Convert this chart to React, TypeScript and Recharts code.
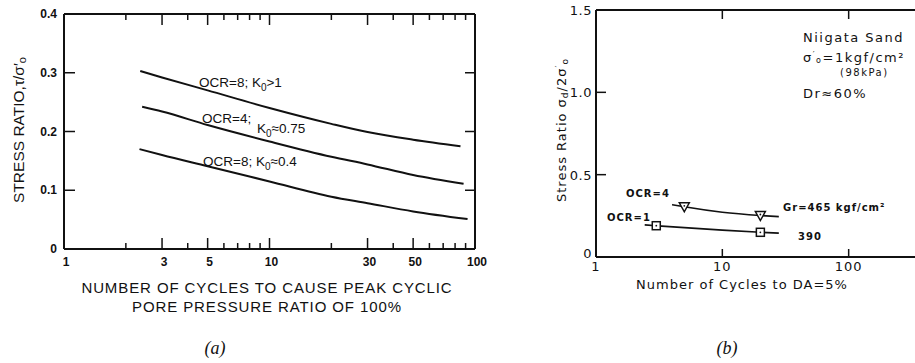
import React from 'react';
import { ComposedChart, Line, XAxis, YAxis } from 'recharts';

// (a) stress ratio vs number of cycles to peak pore pressure ratio 100%
const cycleTicksA = [1, 2, 3, 4, 5, 6, 7, 8, 9, 10, 20, 30, 40, 50, 60, 70, 80, 90, 100];
const cycleLabelsA = [1, 3, 5, 10, 30, 50, 100];
const longTicksA = [3, 5, 10, 30, 50];
const ratioTicksA = [0, 0.1, 0.2, 0.3, 0.4];

const k0HighX = [2.35, 3, 5, 10, 20, 30, 50, 85];
const k0HighY = [0.303, 0.292, 0.27, 0.24, 0.213, 0.199, 0.186, 0.175];
const k0MidX = [2.4, 3, 5, 10, 20, 30, 50, 88];
const k0MidY = [0.242, 0.234, 0.211, 0.183, 0.157, 0.144, 0.126, 0.111];
const k0LowX = [2.33, 3, 5, 10, 20, 30, 50, 92];
const k0LowY = [0.17, 0.16, 0.141, 0.115, 0.089, 0.078, 0.064, 0.051];

// (b) Niigata sand, cycles to DA=5%
const cycleTicksB = [1, 10, 100];
const ratioTicksB = [0, 0.5, 1.0, 1.5];
const ratioLabelsB = ['0', '0.5', '1.0', '1.5'];
const ocr4CurveX = [4, 5, 10, 20, 28];
const ocr4CurveY = [0.318, 0.305, 0.272, 0.252, 0.245];
const ocr4TestX = [5, 20];
const ocr4TestY = [0.305, 0.252];
const ocr1CurveX = [2.43, 3, 10, 20, 28];
const ocr1CurveY = [0.195, 0.19, 0.163, 0.15, 0.145];
const ocr1TestX = [3, 20];
const ocr1TestY = [0.19, 0.15];

const pts = (xs: number[], ys: number[]) => xs.map((x, i) => ({ x, y: ys[i] }));

// built once so every render hands recharts the same arrays
const k0High = pts(k0HighX, k0HighY);
const k0Mid = pts(k0MidX, k0MidY);
const k0Low = pts(k0LowX, k0LowY);
const ocr4Curve = pts(ocr4CurveX, ocr4CurveY);
const ocr4Tests = pts(ocr4TestX, ocr4TestY);
const ocr1Curve = pts(ocr1CurveX, ocr1CurveY);
const ocr1Tests = pts(ocr1TestX, ocr1TestY);

const domainCyclesA: [number, number] = [1, 100];
const domainRatioA: [number, number] = [0, 0.4];
const domainCyclesB: [number, number] = [1, 1000];
const domainRatioB: [number, number] = [0, 1.5];
const marginA = { top: 0, right: 0, bottom: 84, left: 24 };
const marginB = { top: 0, right: 25, bottom: 76, left: 56 };
const frameBottom = { stroke: '#111', strokeWidth: 2 };
const frameTop = { stroke: '#111', strokeWidth: 2 };
const frameLeft = { stroke: '#111', strokeWidth: 2 };
const frameRight = { stroke: '#111', strokeWidth: 2 };

const SANS = '"Liberation Sans", Arial, sans-serif';
const TYPE = '"DejaVu Sans", sans-serif';

const tickLenA = (v: number) => (v === 1 || v === 100 ? 0 : longTicksA.includes(v) ? 11 : 6);

// ---- ticks for (a)
const BottomTickA = (props: any) => {
  const { x, y, payload } = props;
  const v = payload.value;
  return (
    <g>
      <line x1={x} x2={x} y1={y} y2={y - tickLenA(v)} stroke="#111" strokeWidth={1.5} />
      {cycleLabelsA.includes(v) && (
        <text x={x + 2} y={y + 17} textAnchor="middle" fontFamily={SANS} fontWeight="bold" fontSize={12} fill="#111">
          {v}
        </text>
      )}
    </g>
  );
};

const TopTickA = (props: any) => {
  const { x, y, payload } = props;
  return <line x1={x} x2={x} y1={y} y2={y + tickLenA(payload.value)} stroke="#111" strokeWidth={1.5} />;
};

const LeftTickA = (props: any) => {
  const { x, y, payload } = props;
  const v = payload.value;
  const len = v > 0 && v < 0.4 ? 11 : 0;
  return (
    <g>
      <line x1={x} x2={x + len} y1={y} y2={y} stroke="#111" strokeWidth={1.5} />
      <text x={x - 7} y={y} dy={4} textAnchor="end" fontFamily={SANS} fontWeight="bold" fontSize={12} fill="#111">
        {v === 0 ? '0' : v.toFixed(1)}
      </text>
    </g>
  );
};

const RightTickA = (props: any) => {
  const { x, y, payload } = props;
  const v = payload.value;
  const len = v > 0 && v < 0.4 ? 10 : 0;
  return <line x1={x} x2={x - len} y1={y} y2={y} stroke="#111" strokeWidth={1.5} />;
};

// ---- ticks for (b)
const BottomTickB = (props: any) => {
  const { x, y, payload } = props;
  const v = payload.value;
  return (
    <g>
      <line x1={x} x2={x} y1={y} y2={y - (v > 1 ? 8 : 0)} stroke="#111" strokeWidth={1.5} />
      <text x={x} y={y + 14} textAnchor="middle" fontFamily={TYPE} fontSize={13} letterSpacing={1} fill="#111">
        {v}
      </text>
    </g>
  );
};

const TopTickB = (props: any) => {
  const { x, y, payload } = props;
  return <line x1={x} x2={x} y1={y} y2={y + (payload.value > 1 ? 9 : 0)} stroke="#111" strokeWidth={1.5} />;
};

const LeftTickB = (props: any) => {
  const { x, y, payload, index } = props;
  const v = payload.value;
  const len = v > 0 && v < 1.5 ? 10 : 0;
  return (
    <g>
      <line x1={x} x2={x + len} y1={y} y2={y} stroke="#111" strokeWidth={1.5} />
      <text x={x - 4} y={y} dy={v === 0 ? 1 : 5} textAnchor="end" fontFamily={TYPE} fontSize={13} letterSpacing={0.5} fill="#111">
        {ratioLabelsB[index] ?? String(v)}
      </text>
    </g>
  );
};

const TriangleDown = (props: any) => {
  const { cx, cy } = props;
  if (cx == null || cy == null) return <g />;
  return (
    <g>
      <path d={`M${cx - 5},${cy - 4} L${cx + 5},${cy - 4} L${cx},${cy + 5} Z`} fill="#fff" stroke="#111" strokeWidth={1.5} />
      <circle cx={cx} cy={cy - 1} r={0.9} fill="#111" />
    </g>
  );
};

const SquareMark = (props: any) => {
  const { cx, cy } = props;
  if (cx == null || cy == null) return <g />;
  return (
    <g>
      <rect x={cx - 4} y={cy - 4} width={8} height={8} fill="#fff" stroke="#111" strokeWidth={1.5} />
      <circle cx={cx} cy={cy} r={0.9} fill="#111" />
    </g>
  );
};

const bottomTickA = <BottomTickA />;
const topTickA = <TopTickA />;
const leftTickA = <LeftTickA />;
const rightTickA = <RightTickA />;
const bottomTickB = <BottomTickB />;
const topTickB = <TopTickB />;
const leftTickB = <LeftTickB />;
const triangleDot = <TriangleDown />;
const squareDot = <SquareMark />;

// top and right sides of the frame are extra axes sharing the same scales
const ChartA = () => (
  <ComposedChart width={500} height={363} margin={marginA}>
    <XAxis xAxisId="bottom" dataKey="x" type="number" scale="log" domain={domainCyclesA} allowDataOverflow
      ticks={cycleTicksA} interval={0} height={30} tickSize={0} tickMargin={0} tickLine={false}
      axisLine={frameBottom} tick={bottomTickA} />
    <XAxis xAxisId="top" orientation="top" dataKey="x" type="number" scale="log" domain={domainCyclesA} allowDataOverflow
      ticks={cycleTicksA} interval={0} height={14} tickSize={0} tickMargin={0} tickLine={false}
      axisLine={frameTop} tick={topTickA} />
    <YAxis yAxisId="left" dataKey="y" type="number" domain={domainRatioA} allowDataOverflow ticks={ratioTicksA}
      interval={0} width={40} tickSize={0} tickMargin={0} tickLine={false} axisLine={frameLeft} tick={leftTickA} />
    <YAxis yAxisId="right" orientation="right" dataKey="y" type="number" domain={domainRatioA} allowDataOverflow
      ticks={ratioTicksA} interval={0} width={25} tickSize={0} tickMargin={0} tickLine={false}
      axisLine={frameRight} tick={rightTickA} />
    <Line xAxisId="top" yAxisId="right" data={k0High} dataKey="y" type="monotone"
      stroke="#111" strokeWidth={2} dot={false} activeDot={false} isAnimationActive={false} />
    <Line xAxisId="bottom" yAxisId="left" data={k0Mid} dataKey="y" type="monotone"
      stroke="#111" strokeWidth={2} dot={false} activeDot={false} isAnimationActive={false} />
    <Line xAxisId="bottom" yAxisId="left" data={k0Low} dataKey="y" type="monotone"
      stroke="#111" strokeWidth={2} dot={false} activeDot={false} isAnimationActive={false} />
  </ComposedChart>
);

const ChartB = () => (
  <ComposedChart width={500} height={363} margin={marginB}>
    <XAxis xAxisId="bottom" dataKey="x" type="number" scale="log" domain={domainCyclesB} allowDataOverflow
      ticks={cycleTicksB} interval={0} height={30} tickSize={0} tickMargin={0} tickLine={false}
      axisLine={frameBottom} tick={bottomTickB} />
    <XAxis xAxisId="top" orientation="top" dataKey="x" type="number" scale="log" domain={domainCyclesB} allowDataOverflow
      ticks={cycleTicksB} interval={0} height={10} tickSize={0} tickMargin={0} tickLine={false}
      axisLine={frameTop} tick={topTickB} />
    <YAxis yAxisId="left" dataKey="y" type="number" domain={domainRatioB} allowDataOverflow ticks={ratioTicksB}
      interval={0} width={40} tickSize={0} tickMargin={0} tickLine={false} axisLine={frameLeft} tick={leftTickB} />
    <Line xAxisId="top" yAxisId="left" data={ocr4Curve} dataKey="y" type="monotone"
      stroke="#111" strokeWidth={1.6} dot={false} activeDot={false} isAnimationActive={false} />
    <Line xAxisId="bottom" yAxisId="left" data={ocr1Curve} dataKey="y" type="monotone"
      stroke="#111" strokeWidth={1.6} dot={false} activeDot={false} isAnimationActive={false} />
    {/* test points: markers only, no connecting stroke */}
    <Line xAxisId="bottom" yAxisId="left" data={ocr4Tests} dataKey="y" stroke="none"
      dot={triangleDot} activeDot={false} isAnimationActive={false} />
    <Line xAxisId="bottom" yAxisId="left" data={ocr1Tests} dataKey="y" stroke="none"
      dot={squareDot} activeDot={false} isAnimationActive={false} />
  </ComposedChart>
);

const Annotations = () => (
  <svg width={915} height={363} style={{ position: 'absolute', left: 0, top: 0, pointerEvents: 'none' }}>
    {/* (a) */}
    <g fontFamily={SANS} fontSize={13.5} fill="#111">
      <text x={199} y={87}>OCR=8; K<tspan fontSize={10} dy={4}>0</tspan><tspan dy={-4}>&gt;1</tspan></text>
      <text x={202} y={123}>OCR=4;</text>
      <text x={257} y={133}>K<tspan fontSize={10} dy={4}>0</tspan><tspan dy={-4}>≈0.75</tspan></text>
      <text x={203} y={166}>OCR=8; K<tspan fontSize={10} dy={4}>0</tspan><tspan dy={-4}>≈0.4</tspan></text>
    </g>
    <text x={0} y={0} transform="translate(24,130) rotate(-90)" textAnchor="middle" fontFamily={SANS} fontSize={15.5} fill="#111">
      STRESS RATIO,τ/σ′<tspan fontSize={11} dy={2}>o</tspan>
    </text>
    <g fontFamily={SANS} fontSize={15} letterSpacing={0.9} fill="#111" textAnchor="middle">
      <text x={267} y={293}>NUMBER OF CYCLES TO CAUSE PEAK CYCLIC</text>
      <text x={267} y={312}>PORE PRESSURE RATIO OF 100%</text>
    </g>
    <text x={215} y={354} textAnchor="middle" fontFamily='"Liberation Serif", serif' fontStyle="italic" fontSize={18} fill="#111">(a)</text>

    {/* (b) */}
    <g fontFamily={TYPE} fontSize={10} fontWeight="bold" letterSpacing={1} fill="#111">
      <text x={626} y={197}>OCR=4</text>
      <text x={607} y={221}>OCR=1</text>
      <text x={783} y={211}>Gr=465 kgf/cm²</text>
      <text x={798} y={240}>390</text>
    </g>
    <g fontFamily={TYPE} fontSize={13} letterSpacing={1.5} fill="#111">
      <text x={803} y={42}>Niigata Sand</text>
      <text x={803} y={62}>σ<tspan fontSize={8} dy={-4}>′</tspan><tspan fontSize={8} dy={5}>o</tspan><tspan dy={-1}>=1kgf/cm²</tspan></text>
      <text x={840} y={76} fontSize={10}>(98kPa)</text>
      <text x={803} y={98}>Dr≈60%</text>
    </g>
    <text x={0} y={0} transform="translate(566,130) rotate(-90)" textAnchor="middle" fontFamily={TYPE} fontSize={13} letterSpacing={1} fill="#111">
      Stress Ratio  σ<tspan fontSize={9} dy={2}>d</tspan><tspan dy={-2}>/2σ</tspan><tspan fontSize={9} dy={-4}>′</tspan><tspan fontSize={9} dy={6}>o</tspan>
    </text>
    <text x={742} y={289} textAnchor="middle" fontFamily={TYPE} fontSize={13} letterSpacing={1} fill="#111">
      Number of  Cycles to DA=5%
    </text>
    <text x={727} y={354} textAnchor="middle" fontFamily='"Liberation Serif", serif' fontStyle="italic" fontSize={18} fill="#111">(b)</text>
  </svg>
);

export default function App() {
  return (
    <div style={{ position: 'fixed', left: 0, top: 0, width: 915, height: 363, overflow: 'hidden', background: '#fff', display: 'flex' }}>
      <div style={{ flex: 'none', position: 'relative', width: 500 }}>
        <ChartA />
      </div>
      <div style={{ flex: 'none', position: 'relative', width: 500 }}>
        <ChartB />
      </div>
      <Annotations />
    </div>
  );
}
